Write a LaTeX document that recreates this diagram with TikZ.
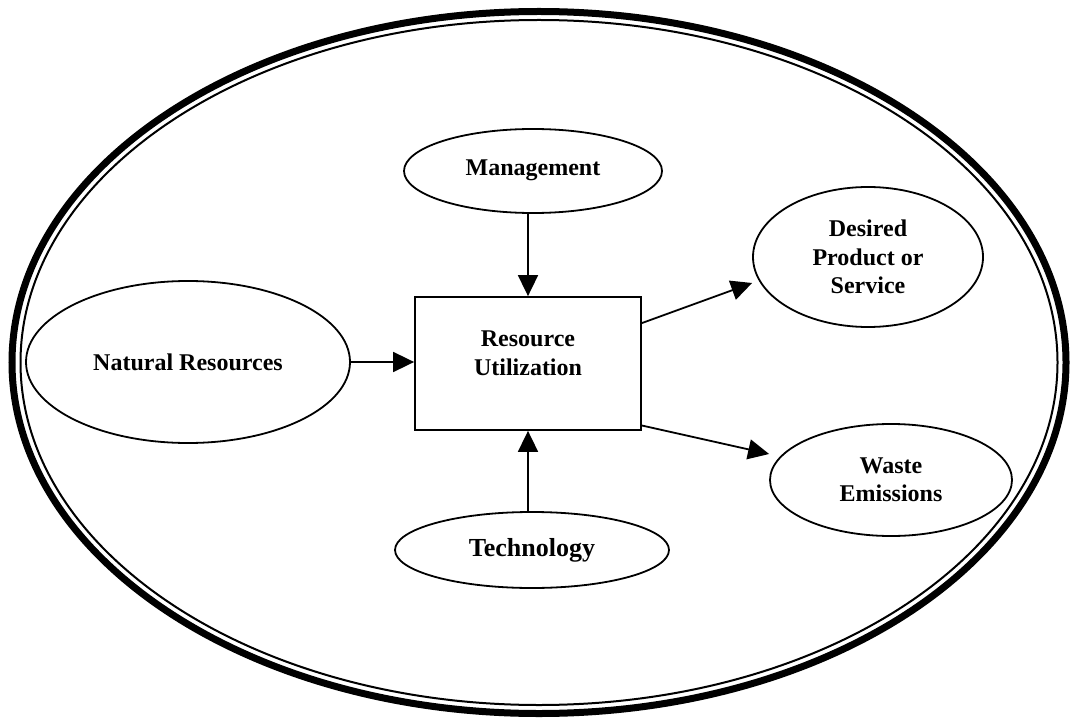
\documentclass[tikz,border=0pt]{standalone}
\usepackage{fontspec}
\setmainfont{Liberation Serif}
\usetikzlibrary{shapes.geometric,arrows.meta,calc}
\begin{document}
\begin{tikzpicture}[x=1pt,y=-1pt,
  lbl/.style={font=\fontsize{24}{28.5}\selectfont\bfseries, align=center},
  oval/.style={ellipse, draw, line width=1.8pt, inner sep=0pt, lbl},
  rbox/.style={rectangle, draw, line width=1.8pt, inner sep=0pt},
  arr/.style={line width=1.8pt, -{Triangle[length=21pt,width=20pt]}}]
\useasboundingbox (0,0) rectangle (1070,719);
% outer double ellipse
\draw[line width=7pt] (539,362.5) ellipse [x radius=527, y radius=351];
\draw[line width=2pt] (539,362.5) ellipse [x radius=518.5, y radius=342.5];
% nodes
\node[oval, minimum width=324pt, minimum height=162pt] (nr) at (188,362) {Natural Resources};
\node[oval, minimum width=258pt, minimum height=84pt] (mg) at (533,171) {\raisebox{6pt}{Management}};
\node[oval, minimum width=274pt, minimum height=76pt, font=\fontsize{26}{30}\selectfont\bfseries] (tc) at (532,550) {Technology};
\node[oval, minimum width=230pt, minimum height=140pt] (dp) at (868,257) {Desired\\Product or\\Service};
\node[oval, minimum width=242pt, minimum height=112pt] (we) at (891,480) {Waste\\Emissions};
\node[rbox, minimum width=226pt, minimum height=133pt,
      label={[lbl, yshift=10pt]center:Resource\\Utilization}] (ru) at (528,363.5) {};
% connectors
\draw[arr] (nr.east) -- (nr.east -| ru.west);
\draw[arr] (ru.north |- mg.south) -- (ru.north);
\draw[arr] (ru.south |- tc.north) -- (ru.south);
\draw[arr] ($(ru.north east)!0.2!(ru.south east)$) -- ($(dp.west)+(0,26)$);
\draw[arr] ($(ru.north east)!0.96!(ru.south east)$) -- ($(we.west)+(0,-26)$);
\end{tikzpicture}
\end{document}
